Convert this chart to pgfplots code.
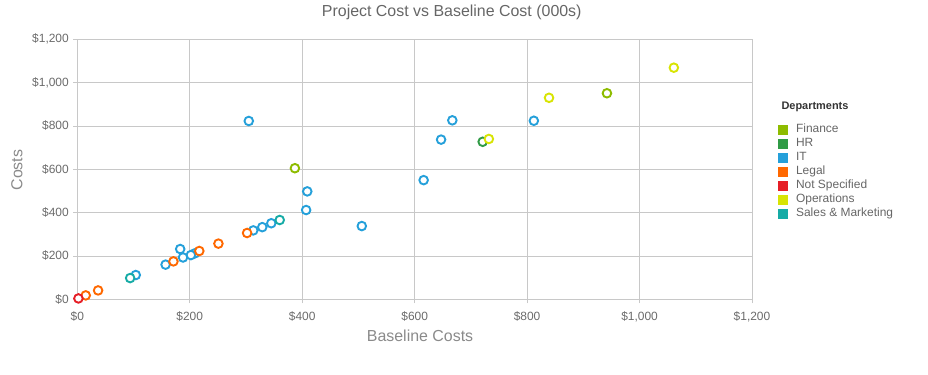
\documentclass[border=0pt]{standalone}
\usepackage{pgfplots}
\pgfplotsset{compat=1.18}
\usepackage{fontspec}
\setmainfont{Liberation Sans}
\definecolor{fincol}{HTML}{8EBC00}
\definecolor{hrcol}{HTML}{309B46}
\definecolor{itcol}{HTML}{25A0DA}
\definecolor{legcol}{HTML}{FF6800}
\definecolor{nscol}{HTML}{E61E26}
\definecolor{opcol}{HTML}{D8E404}
\definecolor{smcol}{HTML}{16ABA6}
\definecolor{gridc}{HTML}{C8C8C8}
\definecolor{tickc}{HTML}{6B6B6B}
\definecolor{labc}{HTML}{8A8A8A}
\definecolor{titc}{HTML}{666666}
\begin{document}
\begin{tikzpicture}
\useasboundingbox (0,0) rectangle (928bp,375bp);
\begin{axis}[
  at={(77.3bp,75.7bp)}, anchor=south west,
  scale only axis, width=674.7bp, height=260bp,
  xmin=0, xmax=1200, ymin=0, ymax=1200,
  xtick={0,200,...,1200}, ytick={0,200,...,1200},
  xticklabels={\$0,\$200,\$400,\$600,\$800,{\$1,000},{\$1,200}},
  yticklabels={\$0,\$200,\$400,\$600,\$800,{\$1,000},{\$1,200}},
  grid=major, grid style={gridc, line width=0.8bp},
  axis line style={gridc, line width=0.8bp},
  tick align=outside, major tick length=4bp,
  tick style={gridc, line width=0.8bp},
  xtick pos=bottom, ytick pos=left,
  ticklabel style={font=\fontsize{12}{14}\selectfont, text=tickc},
  xticklabel style={yshift=-5bp},
  yticklabel style={xshift=-1bp},
  xlabel={Baseline Costs},
  xlabel style={font=\fontsize{16}{18}\selectfont, text=labc, at={(axis description cs:0.508,-0.141)}, anchor=center},
  ylabel={Costs},
  ylabel style={font=\fontsize{16}{18}\selectfont, text=labc, at={(axis description cs:-0.0894,0.497)}, anchor=center, rotate=0},
  clip=false,
  only marks,
  every axis plot/.append style={mark=*, mark size=4.3bp, line width=1.9bp, mark options={fill=white}},
  sq/.style={legend image code/.code={\fill[#1] (0bp,-4bp) rectangle (8bp,4bp);}},
  legend style={at={(axis description cs:1.0385,0.68)}, anchor=north west, draw=none, fill=none,
    font=\fontsize{12}{14}\selectfont, text=titc, row sep=0pt, inner sep=0pt,
    nodes={inner sep=0pt, text height=10bp, text depth=4bp},
    /tikz/every odd column/.append style={column sep=8bp}},
  legend cell align=left,
]
\addplot[fincol, sq=fincol] coordinates {(387,605) (942,951)};
\addlegendentry{Finance}
\addplot[hrcol, sq=hrcol] coordinates {(721,727)};
\addlegendentry{HR}
\addplot[itcol, sq=itcol] coordinates {(305,823) (409,498) (407,412) (506,338) (345,351) (329,333) (313,318) (209,212) (202,204) (188,193) (183,232) (157,160) (104,112) (667,826) (647,737) (616,550) (812,824)};
\addlegendentry{IT}
\addplot[legcol, sq=legcol] coordinates {(302,306) (251,257) (217,223) (171,175) (37,41) (15,18)};
\addlegendentry{Legal}
\addplot[nscol, sq=nscol] coordinates {(2,4)};
\addlegendentry{Not Specified}
\addplot[opcol, sq=opcol] coordinates {(1061,1069) (839,930) (732,740)};
\addlegendentry{Operations}
\addplot[smcol, sq=smcol] coordinates {(360,366) (94,98)};
\addlegendentry{Sales \& Marketing}
\node[anchor=west, font=\bfseries\fontsize{11}{13}\selectfont, text=black!80] at (axis description cs:1.0385,0.742) {Departments};
\node[anchor=center, font=\fontsize{16}{18}\selectfont, text=titc] at (axis description cs:0.555,1.105) {Project Cost vs Baseline Cost (000s)};
\end{axis}
\end{tikzpicture}
\end{document}
